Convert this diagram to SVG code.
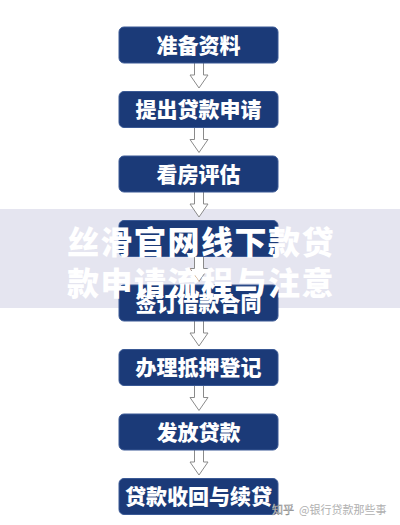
<svg xmlns="http://www.w3.org/2000/svg" width="400" height="525" viewBox="0 0 400 525">
<style>
.box{fill:#1b3a78;stroke:#3a5995;stroke-width:1}
.lbl{fill:#ffffff;font-family:"Noto Sans CJK SC","Noto Sans",sans-serif;font-weight:900;font-size:21px;text-anchor:middle}
.arr{fill:#ffffff;stroke:#8a8a8a;stroke-width:1;stroke-linejoin:miter}
.ov{fill:#ffffff;font-family:"Noto Sans CJK SC","Noto Sans",sans-serif;font-weight:900;font-size:32px;letter-spacing:1.5px;text-anchor:middle}
.wm{font-family:"Noto Sans CJK SC","Noto Sans",sans-serif;font-size:11px}
</style>
<rect x="0" y="0" width="400" height="525" fill="#ffffff"/>
<rect id="band" x="0" y="209" width="400" height="99" fill="#e5e5f0"/>
<g id="connectors">
<path class="arr" d="M194.5,63 V75 H190 L199,88 L208,75 H203.5 V63"/>
<path class="arr" d="M194.5,127.5 V139.5 H190 L199,152.5 L208,139.5 H203.5 V127.5"/>
<path class="arr" d="M194.5,192 V204 H190 L199,217 L208,204 H203.5 V192"/>
<path class="arr" d="M194.5,256.5 V268.5 H190 L199,281.5 L208,268.5 H203.5 V256.5"/>
<path class="arr" d="M194.5,321 V333 H190 L199,346 L208,333 H203.5 V321"/>
<path class="arr" d="M194.5,385.5 V397.5 H190 L199,410.5 L208,397.5 H203.5 V385.5"/>
<path class="arr" d="M194.5,450 V462 H190 L199,475 L208,462 H203.5 V450"/>
</g>
<g id="n1"><rect class="box" x="119" y="27" width="159" height="36" rx="5"/><text class="lbl" x="198.5" y="52.5">准备资料</text></g>
<g id="n2"><rect class="box" x="119" y="91.5" width="159" height="36" rx="5"/><text class="lbl" x="198.5" y="117">提出贷款申请</text></g>
<g id="n3"><rect class="box" x="119" y="156" width="159" height="36" rx="5"/><text class="lbl" x="198.5" y="181.5">看房评估</text></g>
<g id="n4"><rect class="box" x="119" y="220.5" width="159" height="36" rx="5"/></g>
<g id="n5"><rect class="box" x="119" y="285" width="159" height="36" rx="5"/><text class="lbl" x="198.5" y="310.5">签订借款合同</text></g>
<g id="n6"><rect class="box" x="119" y="349.5" width="159" height="36" rx="5"/><text class="lbl" x="198.5" y="375">办理抵押登记</text></g>
<g id="n7"><rect class="box" x="119" y="414" width="159" height="36" rx="5"/><text class="lbl" x="198.5" y="439.5">发放贷款</text></g>
<g id="n8"><rect class="box" x="119" y="478.5" width="159" height="36" rx="5"/><text class="lbl" x="198.5" y="504">贷款收回与续贷</text></g>
<g id="overlay">
<text class="ov" x="201" y="254">丝滑官网线下款贷</text>
<text class="ov" x="201" y="295">款申请流程与注意</text>
</g>
<g id="watermark">
<text class="wm" x="272" y="514" fill="#f2f2f2" stroke="#8a8a8a" stroke-width="0.5">知乎</text>
<text class="wm" x="299" y="514" fill="#b0b0b0">@银行贷款那些事</text>
</g>
</svg>
